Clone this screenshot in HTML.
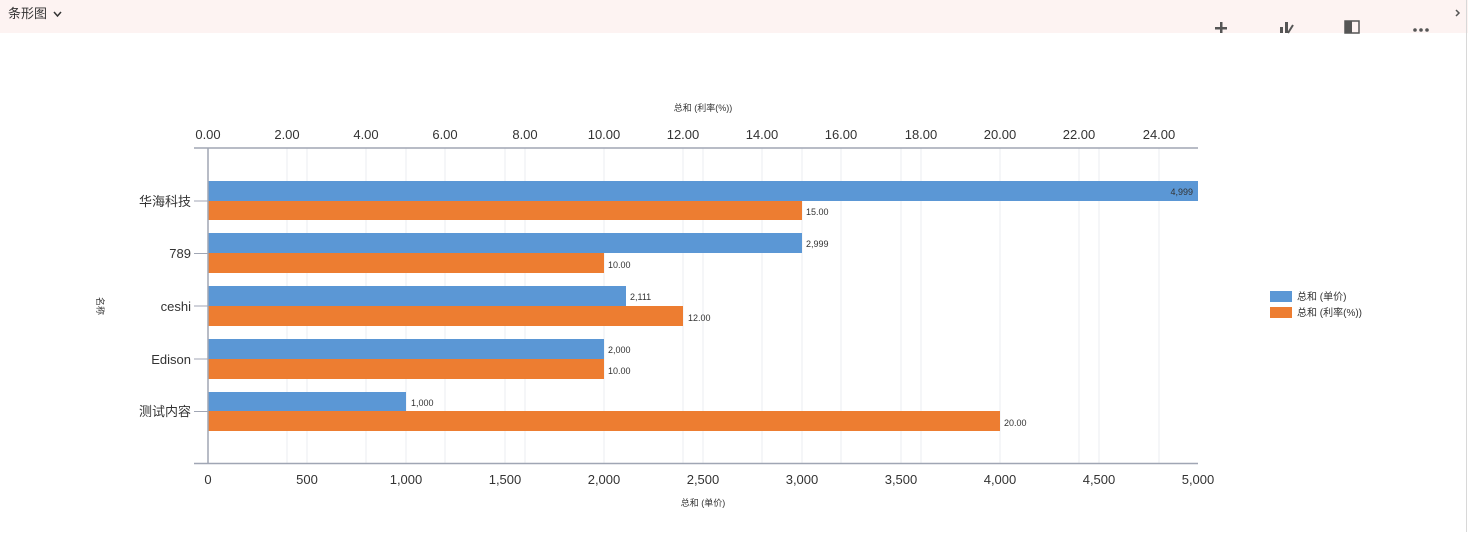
<!DOCTYPE html>
<html><head><meta charset="utf-8"><style>
body{margin:0;width:1468px;height:532px;overflow:hidden;background:#fff;font-family:"Liberation Sans","Noto Sans CJK SC",sans-serif}
svg text{font-family:"Liberation Sans","Noto Sans CJK SC",sans-serif}
</style></head><body>
<svg width="1468" height="532" xmlns="http://www.w3.org/2000/svg">
<rect x="0" y="0" width="1468" height="33" fill="#fdf3f2"/>
<line x1="1466.5" y1="0" x2="1466.5" y2="532" stroke="#d8d8d8"/>
<text x="8" y="18" font-size="13" fill="#333">条形图</text>
<path d="M54 12 l3.5 4 l3.5 -4" fill="none" stroke="#333" stroke-width="1.5"/>
<path d="M1456 10 l3 3 l-3 3" fill="none" stroke="#555" stroke-width="1.5"/>
<rect x="1215" y="27" width="12" height="2.5" fill="#555"/><rect x="1220" y="22" width="2.5" height="11" fill="#555"/>
<rect x="1280" y="27" width="3" height="6" fill="#555"/><rect x="1285" y="22" width="3" height="11" fill="#555"/><path d="M1288 33 l5 -8" stroke="#555" stroke-width="2"/>
<rect x="1345" y="21" width="14" height="12" fill="none" stroke="#555" stroke-width="1.5"/><rect x="1345" y="21" width="7" height="12" fill="#555"/>
<circle cx="1415" cy="30" r="1.8" fill="#555"/><circle cx="1421" cy="30" r="1.8" fill="#555"/><circle cx="1427" cy="30" r="1.8" fill="#555"/>
<g stroke="#ebedf2" stroke-width="1">
<line x1="307" y1="148" x2="307" y2="463"/><line x1="406" y1="148" x2="406" y2="463"/><line x1="505" y1="148" x2="505" y2="463"/><line x1="604" y1="148" x2="604" y2="463"/><line x1="703" y1="148" x2="703" y2="463"/><line x1="802" y1="148" x2="802" y2="463"/><line x1="901" y1="148" x2="901" y2="463"/><line x1="1000" y1="148" x2="1000" y2="463"/><line x1="1099" y1="148" x2="1099" y2="463"/>
<line x1="287" y1="148" x2="287" y2="463"/><line x1="366" y1="148" x2="366" y2="463"/><line x1="445" y1="148" x2="445" y2="463"/><line x1="525" y1="148" x2="525" y2="463"/><line x1="683" y1="148" x2="683" y2="463"/><line x1="762" y1="148" x2="762" y2="463"/><line x1="841" y1="148" x2="841" y2="463"/><line x1="921" y1="148" x2="921" y2="463"/><line x1="1079" y1="148" x2="1079" y2="463"/><line x1="1159" y1="148" x2="1159" y2="463"/>
</g>
<g fill="#5b97d5">
<rect x="208" y="181" width="990" height="20"/>
<rect x="208" y="233" width="594" height="20"/>
<rect x="208" y="286" width="418" height="20"/>
<rect x="208" y="339" width="396" height="20"/>
<rect x="208" y="392" width="198" height="19"/>
</g>
<g fill="#ed7d31">
<rect x="208" y="201" width="594" height="19"/>
<rect x="208" y="253" width="396" height="20"/>
<rect x="208" y="306" width="475" height="20"/>
<rect x="208" y="359" width="396" height="20"/>
<rect x="208" y="411" width="792" height="20"/>
</g>
<g font-size="9" fill="#333">
<text x="1193" y="195" text-anchor="end">4,999</text>
<text x="806" y="215">15.00</text>
<text x="806" y="247">2,999</text>
<text x="608" y="268">10.00</text>
<text x="630" y="300">2,111</text>
<text x="688" y="321">12.00</text>
<text x="608" y="353">2,000</text>
<text x="608" y="374">10.00</text>
<text x="411" y="406">1,000</text>
<text x="1004" y="426">20.00</text>
</g>
<g stroke="#a0a6b4" stroke-width="1.5">
<line x1="194" y1="148" x2="1198" y2="148"/>
<line x1="194" y1="463.5" x2="1198" y2="463.5"/>
<line x1="208" y1="148" x2="208" y2="463"/>
</g>
<g stroke="#a0a6b4" stroke-width="1">
<line x1="194" y1="201" x2="208" y2="201"/><line x1="194" y1="253.5" x2="208" y2="253.5"/><line x1="194" y1="306" x2="208" y2="306"/><line x1="194" y1="359" x2="208" y2="359"/><line x1="194" y1="411.5" x2="208" y2="411.5"/>
</g>
<g font-size="13" fill="#333" text-anchor="end">
<text x="191" y="206">华海科技</text><text x="191" y="258">789</text><text x="191" y="311">ceshi</text><text x="191" y="364">Edison</text><text x="191" y="416">测试内容</text>
</g>
<g font-size="13" fill="#333" text-anchor="middle">
<text x="208" y="139">0.00</text><text x="287" y="139">2.00</text><text x="366" y="139">4.00</text><text x="445" y="139">6.00</text><text x="525" y="139">8.00</text><text x="604" y="139">10.00</text><text x="683" y="139">12.00</text><text x="762" y="139">14.00</text><text x="841" y="139">16.00</text><text x="921" y="139">18.00</text><text x="1000" y="139">20.00</text><text x="1079" y="139">22.00</text><text x="1159" y="139">24.00</text>
<text x="208" y="484">0</text><text x="307" y="484">500</text><text x="406" y="484">1,000</text><text x="505" y="484">1,500</text><text x="604" y="484">2,000</text><text x="703" y="484">2,500</text><text x="802" y="484">3,000</text><text x="901" y="484">3,500</text><text x="1000" y="484">4,000</text><text x="1099" y="484">4,500</text><text x="1198" y="484">5,000</text>
</g>
<g font-size="9" fill="#333" text-anchor="middle">
<text x="703" y="111">总和 (利率(%))</text>
<text x="703" y="506">总和 (单价)</text>
<text x="0" y="0" transform="translate(97,306) rotate(90)">名称</text>
</g>
<rect x="1270" y="291" width="22" height="11" fill="#5b97d5"/>
<rect x="1270" y="307" width="22" height="11" fill="#ed7d31"/>
<g font-size="10" fill="#333"><text x="1297" y="300">总和 (单价)</text><text x="1297" y="316">总和 (利率(%))</text></g>
</svg>
</body></html>
